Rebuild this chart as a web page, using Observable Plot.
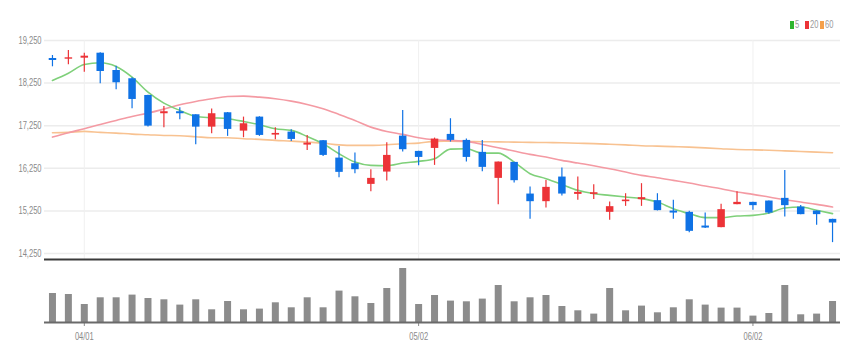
<!DOCTYPE html>
<html>
<head>
<meta charset="utf-8">
<script src="https://cdn.jsdelivr.net/npm/d3@7"></script>
<script src="https://cdn.jsdelivr.net/npm/@observablehq/plot@0.6"></script>
<style>
  html, body { margin: 0; padding: 0; background: #fff; }
  #wrap { position: relative; width: 857px; height: 361px; overflow: hidden; background: #fff;
          font-family: "Liberation Sans", Arial, sans-serif; }
  #price, #vol { position: absolute; left: 0; }
  #price { top: 0; }
  #vol { top: 260px; }
  .lg-sw { position: absolute; top: 21px; width: 4px; height: 8px; }
  .lg-tx { position: absolute; top: 18px; font-size: 10.5px; line-height: 13px; color: #9a9a9a;
           transform: scaleX(0.72); transform-origin: left center; white-space: nowrap; }
</style>
</head>
<body>
<div id="wrap">
  <div id="price"></div>
  <div id="vol"></div>
</div>
<script>
// ---- data ----
const dates = ["03/30","03/31","04/01","04/04","04/05","04/06","04/07","04/08","04/11","04/12",
  "04/13","04/14","04/15","04/18","04/19","04/20","04/21","04/22","04/25","04/26",
  "04/27","04/28","04/29","05/02","05/03","05/04","05/06","05/09","05/10","05/11",
  "05/12","05/13","05/16","05/17","05/18","05/19","05/20","05/23","05/24","05/25",
  "05/26","05/27","05/30","05/31","06/02","06/03","06/07","06/08","06/09","06/10"];
const open = [18828,18811,18835,18952,18546,18352,17960,17531,17578,17507,
  17217,17554,17123,17452,17030,17100,16795,16898,16490,16358,
  15873,16162,17006,16647,16717,17046,16905,16624,16014,16389,
  15646,15467,16045,15638,15638,15217,15467,15514,15491,15247,
  15217,14895,14858,15397,15451,15482,15545,15341,15247,15052];
const high = [18898,19015,18952,18960,18647,18375,17965,17702,17672,17510,
  17640,17560,17452,17460,17203,17156,17022,16905,16764,16607,
  16218,16851,17609,16650,16960,17414,16940,16905,16400,16395,
  15810,15967,16256,16045,15866,15458,15654,15890,15654,15498,
  15240,15200,15404,15702,15455,15485,16201,15380,15250,15055];
const low = [18633,18680,18507,18235,18094,17648,17220,17203,17390,16804,
  17062,17000,16968,17000,16921,16882,16670,16530,16030,16124,
  15702,15951,16631,16312,16319,16865,16397,16171,15397,15904,
  15052,15317,15599,15498,15521,15029,15357,15357,15250,15052,
  14740,14840,14855,15395,15264,15170,15106,15160,14912,14506];
const close = [18781,18844,18882,18523,18258,17866,17240,17578,17531,17217,
  17531,17163,17296,17022,17069,16928,16842,16553,16155,16218,
  16014,16553,16687,16506,16936,16905,16506,16272,16397,15960,
  15467,15803,15646,15685,15677,15350,15505,15561,15257,15200,
  14771,14848,15280,15451,15374,15200,15374,15163,15163,14966];
const volume = [290,280,180,247,247,274,240,227,174,227,
  127,210,127,134,197,147,247,147,314,257,
  190,340,540,180,270,214,207,234,370,207,
  247,270,160,117,84,340,117,164,97,147,
  227,174,144,144,64,90,370,77,84,210];
const ma5 = [18312,18483,18687,18727,18640,18390,18038,17780,17609,17468,
  17437,17414,17350,17273,17179,17140,16999,16827,16593,16397,
  16319,16312,16373,16413,16476,16701,16710,16607,16607,16397,
  16124,16007,15873,15733,15655,15615,15576,15538,15458,15303,
  15186,15092,15092,15130,15146,15200,15318,15341,15264,15186];
const ma20 = [16983,17086,17179,17280,17374,17468,17545,17639,17742,17820,
  17883,17937,17945,17920,17883,17827,17749,17648,17515,17374,
  17217,17116,17046,16968,16921,16905,16882,16811,16733,16655,
  16577,16514,16436,16373,16312,16241,16162,16084,16030,15967,
  15904,15834,15772,15693,15639,15576,15514,15458,15404,15341];
const ma60 = [17086,17094,17116,17094,17077,17053,17039,17022,17014,16991,
  16968,16968,16944,16929,16905,16889,16866,16842,16800,16788,
  16788,16804,16827,16842,16882,16885,16880,16875,16870,16865,
  16860,16855,16850,16840,16830,16815,16800,16780,16770,16760,
  16748,16730,16710,16690,16685,16675,16660,16645,16630,16616];
const yTicks = [14250,15250,16250,17250,18250,19250];
const xTicks = ["04/01","05/02","06/02"];
const legendLabels = ["5","20","60"];

// ---- styles ----
const UP = "#ec3337", DOWN = "#0f72e5";
const maColors = ["#7fd07a","#f49aa3","#f8c291"];
const legendSwatch = ["#2fb52f","#ec3337","#f5a04a"];

const rows = dates.map((d, i) => ({date: d, open: open[i], high: high[i], low: low[i], close: close[i],
  volume: volume[i], ma5: ma5[i], ma20: ma20[i], ma60: ma60[i]}));
const color = d => d.close >= d.open ? UP : DOWN;

const xOpt = {type: "point", domain: dates, padding: 0.5};
const fontStyle = {fontSize: "10.5px", fontFamily: "\"Liberation Sans\", Arial, sans-serif", color: "#8a8a8a", background: "transparent"};

const price = Plot.plot({
  width: 857, height: 262,
  marginLeft: 44, marginRight: 17, marginTop: 40, marginBottom: 3,
  style: fontStyle,
  x: {...xOpt, axis: null},
  y: {domain: [14110, 19250], ticks: yTicks, tickFormat: d3.format(","), tickSize: 0, tickPadding: 3, label: null},
  marks: [
    Plot.ruleY(yTicks, {stroke: "#ececec", strokeWidth: 1.5}),
    Plot.ruleX(xTicks, {stroke: "#f0f0f0", strokeWidth: 1}),
    Plot.line(rows, {x: "date", y: "ma60", stroke: maColors[2], strokeWidth: 1.6, curve: "monotone-x"}),
    Plot.line(rows, {x: "date", y: "ma20", stroke: maColors[1], strokeWidth: 1.6, curve: "monotone-x"}),
    Plot.line(rows, {x: "date", y: "ma5", stroke: maColors[0], strokeWidth: 1.6, curve: "monotone-x"}),
    Plot.ruleX(rows, {x: "date", y1: "low", y2: "high", stroke: color, strokeWidth: 1.2}),
    Plot.ruleX(rows, {x: "date", y1: "open", y2: "close", stroke: color, strokeWidth: 7.5}),
    Plot.ruleY([14110], {stroke: "#3a3a3a", strokeWidth: 2})
  ]
});
document.getElementById("price").appendChild(price);

const vol = Plot.plot({
  width: 857, height: 100,
  marginLeft: 44, marginRight: 17, marginTop: 2, marginBottom: 38,
  style: fontStyle,
  x: {...xOpt, ticks: xTicks, tickSize: 4, tickPadding: 6, label: null},
  y: {domain: [0, 600], axis: null},
  marks: [
    Plot.ruleX(rows, {x: "date", y1: 0, y2: "volume", stroke: "#8c8c8c", strokeWidth: 7}),
    Plot.ruleY([0], {stroke: "#6a6a6a", strokeWidth: 2})
  ]
});
document.getElementById("vol").appendChild(vol);

// condense axis label glyphs horizontally (narrow-font look), anchored at each label's own anchor
function condense(svg, k) {
  svg.querySelectorAll("text").forEach(t => {
    const b = t.getBBox();
    const anchor = getComputedStyle(t).textAnchor || t.getAttribute("text-anchor") || "start";
    let ax = b.x;
    if (anchor === "end") ax = b.x + b.width;
    else if (anchor === "middle") ax = b.x + b.width / 2;
    const prev = t.getAttribute("transform") || "";
    t.setAttribute("transform", `${prev} translate(${ax},0) scale(${k},1) translate(${-ax},0)`.trim());
  });
}
condense(price, 0.72);
condense(vol, 0.72);

// legend
const wrap = document.getElementById("wrap");
legendLabels.forEach((t, i) => {
  const x0 = 790 + i * 15;
  const sw = document.createElement("div"); sw.className = "lg-sw";
  sw.style.left = x0 + "px"; sw.style.background = legendSwatch[i];
  const tx = document.createElement("div"); tx.className = "lg-tx";
  tx.style.left = (x0 + 5) + "px"; tx.textContent = t;
  wrap.appendChild(sw); wrap.appendChild(tx);
});
</script>
</body>
</html>
